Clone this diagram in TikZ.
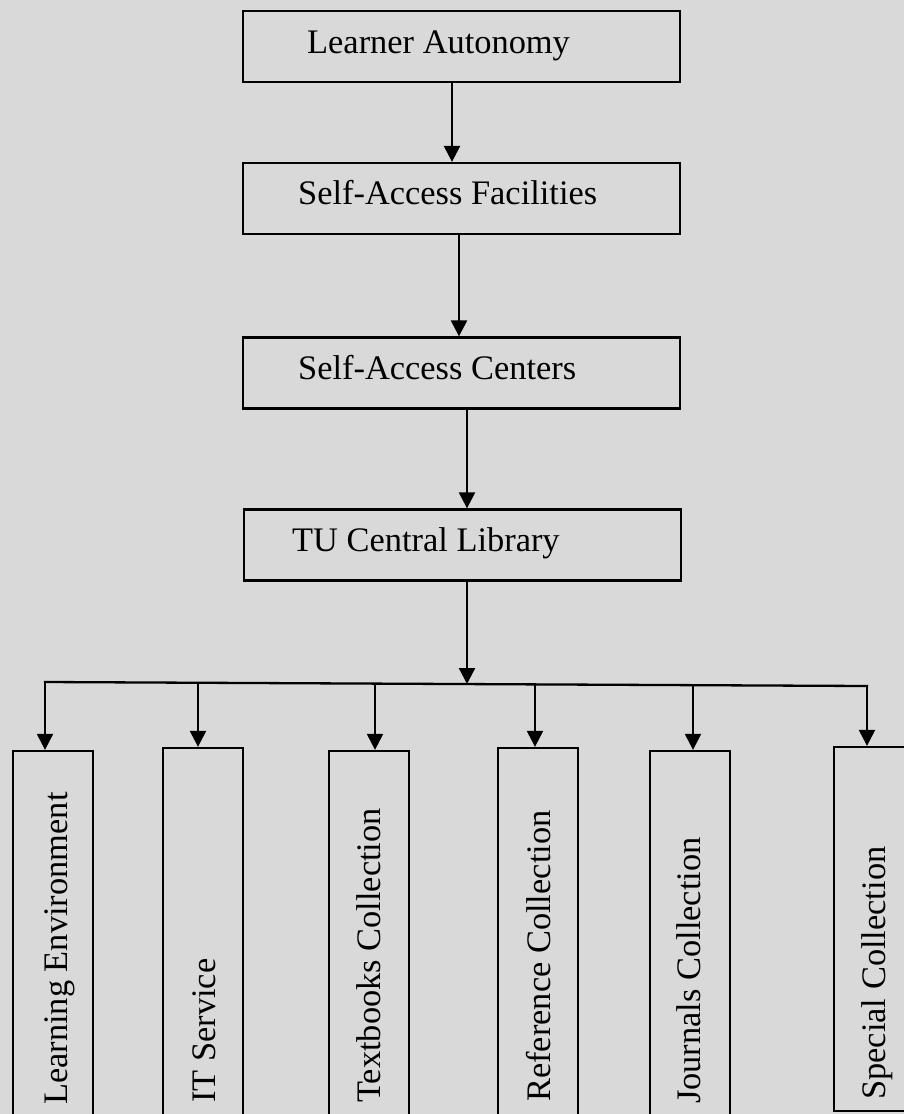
\documentclass[tikz,border=0pt]{standalone}
\usepackage{fontspec}
\setmainfont{Liberation Serif}
\usepackage{tikz}
\usetikzlibrary{arrows.meta,calc,positioning}
\definecolor{bgGray}{rgb}{0.851,0.851,0.851}

\tikzset{
  flowBox/.style={draw,line width=2.3pt,minimum width=437pt,minimum height=71pt,inner sep=0pt},
  colBox/.style={draw,line width=2.3pt,minimum width=80pt,inner sep=0pt},
  boxText/.style={anchor=base west,inner sep=0pt,font=\fontsize{34.4}{40}\selectfont},
  flowArrow/.style={line width=2.3pt,-{Triangle[length=16pt,width=16pt]}}
}

\begin{document}
\begin{tikzpicture}[x=1pt,y=-1pt]

      \useasboundingbox (0,0) rectangle (904,1114);
      \fill[bgGray] (0,0) rectangle (904,1114);
      \clip (0,0) rectangle (904,1114);

      % draw the chain of boxes
      \node[flowBox] (learner) at (461.5,46.5) {};
      \node[flowBox] (facilities) at (461.5,198.5) {};
      \node[flowBox] (centers) at (461.5,373) {};
      \node[flowBox] (library) at (462.5,545) {};

      \node[boxText] (learnerTxt) at (307,53) {Learner Autonomy};
      \node[boxText] (facilitiesTxt) at (298,204) {Self-Access Facilities};
      \node[boxText] (centersTxt) at (298,379) {Self-Access Centers};
      \node[boxText] (libraryTxt) at (292,551) {TU Central Library};

      % arrows down the chain
      \draw[flowArrow] ([xshift=-9.5pt]learner.south) -- ([xshift=-9.5pt]facilities.north);
      \draw[flowArrow] ([xshift=-2.5pt]facilities.south) -- ([xshift=-2.5pt]centers.north);
      \draw[flowArrow] ([xshift=5.5pt]centers.south) -- ([xshift=4.5pt]library.north);
      \coordinate (hub) at (467,684);
      \draw[flowArrow] ([xshift=4.5pt]library.south) -- (hub);

      % draw the collection boxes
      \foreach \nm/\cx/\top/\bot in {env/53/750/1130, itService/203/747/1130,
        textbooks/369/750/1130, reference/538/747/1130,
        journals/690/750/1130, special/874/746/1112}
        \node[colBox,minimum height={(\bot-\top-2)*1pt}] (\nm) at (\cx,{(\top+\bot)/2}) {};

      \foreach \nm/\bx/\by/\txt in {env/67/1105/Learning Environment,
        itService/215/1103/IT Service, textbooks/380/1103/Textbooks Collection,
        reference/550/1102/Reference Collection, journals/700/1104/Journals Collection,
        special/885/1100/Special Collection}
        \node[boxText,rotate=90] (\nm Txt) at (\bx,\by) {\txt};

      % draw the branch line and its arrows
      \foreach \nm/\ax/\ay in {env/45/682, itService/198/682.7, textbooks/375/683.6,
        reference/535/684.4, journals/693/685.2, special/867/686}
        \coordinate (b\nm) at (\ax,\ay);
      \draw[line width=2.3pt,line cap=rect] (benv) -- (bspecial);
      \foreach \nm in {env,itService,textbooks,reference,journals,special}
        \draw[flowArrow] (b\nm) -- (b\nm |- \nm.north);

\end{tikzpicture}
\end{document}
